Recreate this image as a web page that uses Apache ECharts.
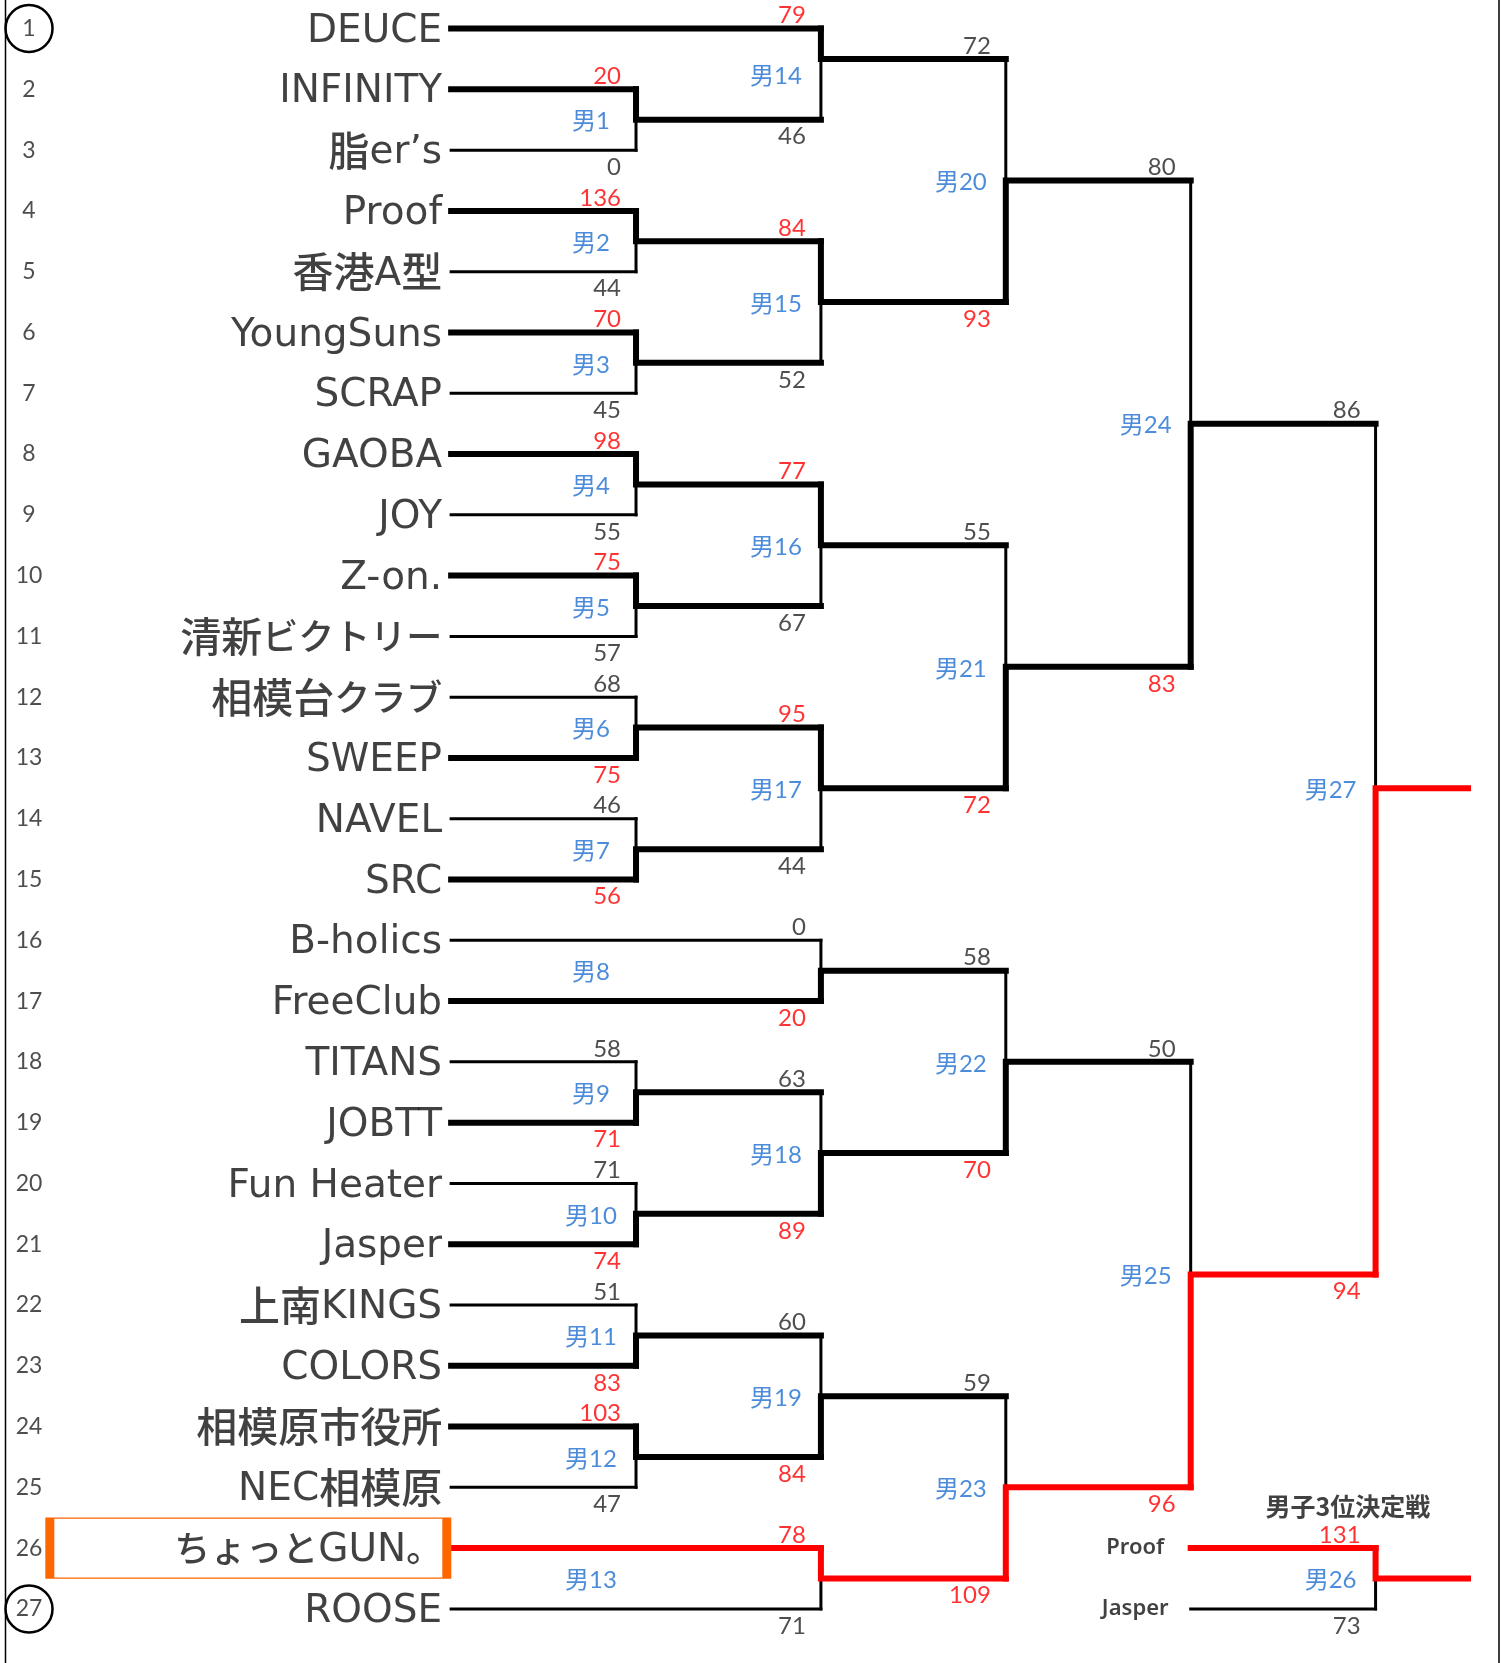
<!DOCTYPE html>
<html><head><meta charset="utf-8">
<script src="https://cdn.jsdelivr.net/npm/echarts@6/dist/echarts.min.js"></script>
<style>html,body{margin:0;padding:0;background:#fff}#c{width:1505px;height:1663px}</style>
</head><body><div id="c"></div>
<script>
// ---- data ----
const teams = ['DEUCE','INFINITY','脂er’s','Proof','香港A型','YoungSuns','SCRAP','GAOBA','JOY','Z-on.',
  '清新ビクトリー','相模台クラブ','SWEEP','NAVEL','SRC','B-holics','FreeClub','TITANS','JOBTT','Fun Heater',
  'Jasper','上南KINGS','COLORS','相模原市役所','NEC相模原','ちょっとGUN。','ROOSE'];
const rowNumbers = [1,2,3,4,5,6,7,8,9,10,11,12,13,14,15,16,17,18,19,20,21,22,23,24,25,26,27];
const circledRows = [1,27];
const matchLabels = ['男1','男2','男3','男4','男5','男6','男7','男8','男9','男10','男11','男12','男13',
  '男14','男15','男16','男17','男18','男19','男20','男21','男22','男23','男24','男25','男26','男27'];
const matchCol   = [1,1,1,1,1,1,1,2,1,1,1,1,2, 2,2,2,2,2,2, 3,3,3,3, 4,4, 5,5];
const labelCol   = [1,1,1,1,1,1,1,1,1,1,1,1,1, 2,2,2,2,2,2, 3,3,3,3, 4,4, 5,5];
const topSrc = ['t2','t4','t6','t8','t10','t12','t14','t16','t18','t20','t22','t24','t26',
  't1','m2','m4','m6','m9','m11','m14','m16','m8','m19','m20','m22','p1','m24'];
const botSrc = ['t3','t5','t7','t9','t11','t13','t15','t17','t19','t21','t23','t25','t27',
  'm1','m3','m5','m7','m10','m12','m15','m17','m18','m13','m21','m23','p2','m25'];
const topScore = [20,136,70,98,75,68,46,0,58,71,51,103,78, 79,84,77,95,63,60, 72,55,58,59, 80,50, 131, 86];
const botScore = [0,44,45,55,57,75,56,20,71,74,83,47,71, 46,52,67,44,89,84, 93,72,70,109, 83,96, 73, 94];
const outRow   = [2.5,4.5,6.5,8.5,10.5,12.5,14.5,16.5,18.5,20.5,22.5,24.5,26.5, 1.5,5.5,9.5,13.5,19.5,23.5, 3.5,11.5,18,25, 7.5,21.5, 26.5, 13.5];
const labelRow = [2.5,4.5,6.5,8.5,10.5,12.5,14.5,16.5,18.5,20.5,22.5,24.5,26.5, 1.75,5.5,9.5,13.5,19.5,23.5, 3.5,11.5,18,25, 7.5,21.5, 26.5, 13.5];
const thirdEntrants = ['Proof','Jasper'];
const thirdRows = [26,27];
const thirdTitle = '男子3位決定戦';
const THIRD_MATCH = 25; // index of 男26
const FINAL_MATCH = 26; // index of 男27

// ---- layout constants ----
const NUM_COL = -2.283, END_COL = 5.5, THIRD_START = 4, THIRD_LABEL_COL = 3.7;
const TITLE_POS = [4.85, 25.32], BOX_COL = -1.097;
const RED = '#ff0000', BLACK = '#000000', BLUE = '#1f6fd1', TXT = '#111111';
const FONT = 'Lato, "Noto Sans CJK JP", sans-serif';

function srcRow(s){ const n=+s.slice(1); return s[0]==='t'? n : s[0]==='p'? thirdRows[n-1] : outRow[n-1]; }
function srcName(s){ const n=+s.slice(1); return s[0]==='t'? teams[n-1] : s[0]==='p'? thirdEntrants[n-1] : winnerName(n-1); }
function winnerName(i){ return topScore[i]>botScore[i] ? srcName(topSrc[i]) : srcName(botSrc[i]); }
function consumer(s){ for(let j=0;j<topSrc.length;j++){ if(topSrc[j]===s) return {j,top:true}; if(botSrc[j]===s) return {j,top:false}; } return null; }
const champion = winnerName(FINAL_MATCH);

const segs = [];
function seg(coords, thick, red){
  segs.push({coords, order: red?2:(thick?1:0),
    lineStyle:{width: thick?6:3, color: red?RED:BLACK, cap:'square', join:'miter', opacity:1}});
}
teams.forEach((t,k)=>{
  const c = consumer('t'+(k+1)); const j=c.j;
  const won = c.top ? topScore[j]>botScore[j] : botScore[j]>topScore[j];
  seg([[0,k+1],[matchCol[j],k+1]], won, won && t===champion);
});
thirdEntrants.forEach((t,k)=>{
  const c = consumer('p'+(k+1)); const j=c.j;
  const won = c.top ? topScore[j]>botScore[j] : botScore[j]>topScore[j];
  seg([[THIRD_START,thirdRows[k]],[matchCol[j],thirdRows[k]]], won, won);
});
matchLabels.forEach((m,i)=>{
  const c = matchCol[i], tr = srcRow(topSrc[i]), br = srcRow(botSrc[i]), o = outRow[i];
  const topWins = topScore[i]>botScore[i];
  const cons = consumer('m'+(i+1));
  const next = cons ? matchCol[cons.j] : END_COL;
  const red = i===THIRD_MATCH ? true : winnerName(i)===champion;
  seg([[c, topWins?br:tr],[c,o]], false, false);
  seg([[c, topWins?tr:br],[c,o],[next,o]], true, red);
});
segs.sort((a,b)=>a.order-b.order);

// rich text: kana runs, kanji runs, latin runs
const KANA = /[\u3000-\u30ff]/, KANJI = /[\u4e00-\u9fff\uff00-\uffef]/;
function kind(ch){ return KANA.test(ch)?'k':(KANJI.test(ch)?'c':'l'); }
function richName(s){
  let out='', cur='', curK=null;
  for(const ch of s){
    const k = kind(ch);
    if(curK!==null && k!==curK){ out += '{'+curK+'|'+cur+'}'; cur=''; }
    cur += ch; curK = k;
  }
  if(cur) out += '{'+curK+'|'+cur+'}';
  return out;
}

const nameData = teams.map((t,k)=>({name:t, value:[0,k+1]}));
const numData = rowNumbers.map(r=>({name:String(r), value:[NUM_COL,r]}));
const circleData = circledRows.map(r=>[NUM_COL,r]);
const matchLabelData = matchLabels.map((m,i)=>({name:m, value:[labelCol[i],labelRow[i]]}));
const scoreData = [];
matchLabels.forEach((m,i)=>{
  const topWins = topScore[i]>botScore[i];
  scoreData.push({name:String(topScore[i]), value:[matchCol[i], srcRow(topSrc[i])],
    label:{offset:[0,-13], color: topWins?RED:'#222'}});
  scoreData.push({name:String(botScore[i]), value:[matchCol[i], srcRow(botSrc[i])],
    label:{offset:[0,17], color: topWins?'#222':RED}});
});
const thirdNameData = thirdEntrants.map((t,k)=>({name:t, value:[THIRD_LABEL_COL, thirdRows[k]]}));
const champRow = teams.indexOf(champion)+1;

const chart = echarts.init(document.getElementById('c'), null, {renderer:'canvas'});
const txtBase = {type:'scatter', symbolSize:0, silent:true, animation:false};
chart.setOption({
  animation:false,
  backgroundColor:'#ffffff',
  grid:{left:0,right:0,top:0,bottom:0,containLabel:false},
  xAxis:{type:'value',min:-2.44,max:5.7,show:false},
  yAxis:{type:'value',min:0.53,max:27.89,inverse:true,show:false},
  graphic:[
    {type:'line', shape:{x1:5.5,y1:0,x2:5.5,y2:1663}, style:{stroke:'#000',lineWidth:1.5}},
    {type:'line', shape:{x1:1499,y1:0,x2:1499,y2:1663}, style:{stroke:'#000',lineWidth:1.5}}
  ],
  series:[
    {type:'lines', coordinateSystem:'cartesian2d', polyline:true, silent:true, animation:false,
      data:segs.map(s=>({coords:s.coords, lineStyle:s.lineStyle})), z:2},
    Object.assign({}, txtBase, {data:[[BOX_COL, champRow]], symbol:'rect', symbolSize:[397,60],
      itemStyle:{color:'rgba(0,0,0,0)', borderColor:'#ff6600', borderWidth:3.5, opacity:1}, z:3}),
    Object.assign({}, txtBase, {data:circleData, symbol:'circle', symbolSize:47,
      itemStyle:{color:'rgba(0,0,0,0)', borderColor:'#000', borderWidth:2.5, opacity:1}, z:3}),
    Object.assign({}, txtBase, {data:nameData, z:4,
      label:{show:true, position:'left', distance:9, offset:[0,3],
        formatter:p=>richName(p.name),
        rich:{
          l:{fontFamily:'"DejaVu Sans", sans-serif', fontSize:39, color:TXT},
          c:{fontFamily:'"Noto Sans CJK JP", sans-serif', fontWeight:500, fontSize:41, color:TXT, padding:[0,0,6,0]},
          k:{fontFamily:'"Noto Sans CJK JP", sans-serif', fontWeight:500, fontSize:36, color:TXT, padding:[0,0,6,0]}
        }}}),
    Object.assign({}, txtBase, {data:numData, z:4,
      label:{show:true, position:'inside', formatter:'{b}', fontFamily:FONT, fontSize:23, color:'#222'}}),
    Object.assign({}, txtBase, {data:matchLabelData, z:4,
      label:{show:true, position:'inside', offset:[-45,2], formatter:'{b}', fontFamily:FONT, fontSize:24, color:BLUE}}),
    Object.assign({}, txtBase, {data:scoreData, z:4,
      label:{show:true, position:'left', distance:15, formatter:'{b}', fontFamily:FONT, fontSize:24}}),
    Object.assign({}, txtBase, {data:thirdNameData, z:4,
      label:{show:true, position:'inside', formatter:'{b}', fontFamily:'"Noto Sans", "Noto Sans CJK JP", sans-serif', fontSize:22, fontWeight:600, color:TXT}}),
    Object.assign({}, txtBase, {data:[{name:thirdTitle, value:TITLE_POS}], z:4,
      label:{show:true, position:'inside', formatter:'{b}', fontFamily:'"Noto Sans CJK JP", sans-serif', fontSize:25, fontWeight:'bold', color:TXT}})
  ]
});
</script></body></html>
